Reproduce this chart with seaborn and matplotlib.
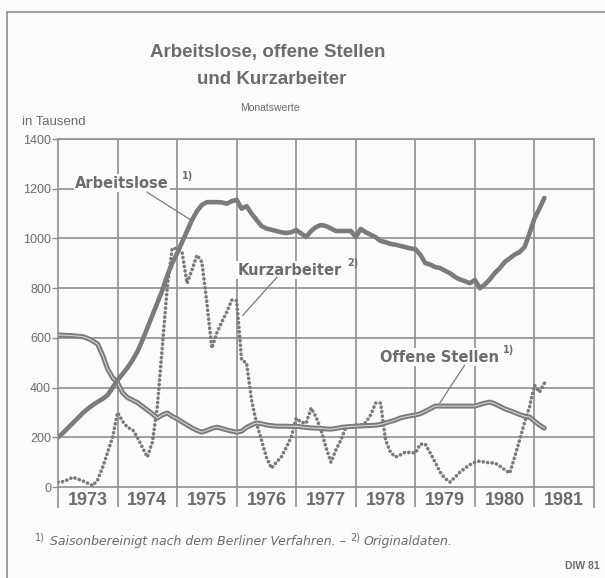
import numpy as np
import pandas as pd
import matplotlib
matplotlib.use('Agg')
import matplotlib.pyplot as plt
import seaborn as sns

# Monatswerte in Tausend, Januar 1973 bis Maerz 1981
arbeitslose = [
    200, 218, 238, 258, 278, 298, 315, 330, 343, 355, 370, 400,      # 1973
    430, 455, 480, 510, 545, 590, 640, 690, 740, 790, 850, 900,      # 1974
    940, 985, 1030, 1074, 1110, 1135, 1146, 1146, 1146, 1145, 1140, 1150,  # 1975
    1155, 1120, 1130, 1100, 1075, 1050, 1040, 1035, 1030, 1025, 1022, 1025,  # 1976
    1034, 1020, 1006, 1030, 1046, 1054, 1050, 1040, 1030, 1030, 1030, 1030,  # 1977
    1006, 1038, 1025, 1015, 1005, 990, 985, 978, 975, 970, 965, 960,  # 1978
    957, 935, 901, 895, 885, 881, 870, 860, 845, 835, 828, 820,      # 1979
    833, 800, 815, 835, 861, 880, 905, 920, 935, 945, 965, 1020,     # 1980
    1080, 1120, 1163,                                                # 1981
]
offene_stellen = [
    612, 611, 610, 609, 607, 605, 598, 588, 575, 530, 475, 440,
    420, 380, 360, 350, 340, 325, 310, 295, 278, 290, 298, 285,
    275, 262, 250, 238, 228, 221, 228, 236, 241, 236, 230, 225,
    221, 225, 240, 250, 258, 255, 250, 247, 245, 245, 245, 244,
    245, 242, 240, 238, 237, 236, 234, 233, 236, 240, 242, 244,
    245, 246, 247, 248, 249, 252, 258, 264, 270, 278, 283, 287,
    290, 295, 305, 315, 326, 326, 326, 326, 326, 326, 326, 326,
    326, 332, 338, 342, 335, 325, 315, 308, 300, 292, 285, 282,
    265, 250, 237,
]
kurzarbeiter = [
    20, 22, 30, 40, 32, 25, 16, 6, 30, 80, 140, 200,
    300, 265, 240, 232, 200, 160, 121, 180, 320, 560, 800, 960,
    960, 945, 820, 873, 933, 905, 740, 559, 620, 664, 704, 752,
    750, 511, 499, 350, 257, 189, 120, 76, 100, 121, 160, 201,
    277, 261, 257, 318, 282, 229, 160, 100, 150, 189, 241, 245,
    250, 249, 260, 290, 338, 338, 189, 140, 121, 130, 141, 139,
    137, 173, 173, 137, 100, 60, 35, 20, 40, 60, 76, 90,
    100, 105, 100, 98, 97, 85, 70, 56, 120, 189, 260, 322,
    410, 382, 418,
]
jahre = [1973, 1974, 1975, 1976, 1977, 1978, 1979, 1980, 1981]
y_ticks = [0, 200, 400, 600, 800, 1000, 1200, 1400]

monate = 1973 + np.arange(len(arbeitslose)) / 12
df = pd.DataFrame({'zeit': monate, 'Arbeitslose': arbeitslose,
                   'Offene Stellen': offene_stellen, 'Kurzarbeiter': kurzarbeiter})

grau = '#7b7b7b'
text_grau = '#6c6c6c'
gitter = '#8f8f8f'
bg = '#fafbfb'

sns.set_style('white')
plt.rcParams['font.family'] = ['Liberation Sans', 'DejaVu Sans']

fig = plt.figure(figsize=(6.05, 5.78), dpi=100, facecolor=bg)
ax = fig.add_axes([58 / 605, 1 - 507 / 578, (594 - 58) / 605, (507 - 139) / 578])
ax.set_facecolor(bg)

# Gitter
for v in y_ticks:
    ax.axhline(v, color=gitter, lw=1.2, zorder=1)
for j in jahre[1:]:
    ax.axvline(j, color=gitter, lw=1.2, zorder=1)

# Kurven
sns.lineplot(data=df, x='zeit', y='Kurzarbeiter', ax=ax, color=grau, lw=2.6,
             linestyle=(0, (0.05, 1.2)), dash_capstyle='round', zorder=3)
sns.lineplot(data=df, x='zeit', y='Offene Stellen', ax=ax, color=grau, lw=3.6, zorder=4)
sns.lineplot(data=df, x='zeit', y='Offene Stellen', ax=ax, color='#d4d4d4', lw=0.8, zorder=5)
sns.lineplot(data=df, x='zeit', y='Arbeitslose', ax=ax, color=grau, lw=3.3, zorder=6)

ax.set_xlim(1973, 1982)
ax.set_ylim(-80, 1400)
ax.set_xlabel('')
ax.set_ylabel('')
ax.set_xticks([])
ax.set_yticks(y_ticks)
ax.set_yticklabels([str(v) for v in y_ticks], color=text_grau, fontsize=9)
ax.tick_params(axis='y', length=4, width=1, color=gitter, pad=1, left=True)
for s in ['left', 'right', 'top']:
    ax.spines[s].set_color(gitter)
    ax.spines[s].set_linewidth(1.2)
ax.spines['bottom'].set_visible(False)

# Jahresbeschriftung unter der Nulllinie
for j in jahre:
    ax.text(j + 0.5, -52, str(j), ha='center', va='center', fontsize=13,
            fontweight='bold', color=text_grau, zorder=7)

# Beschriftungen der Kurven
lab = ['DejaVu Sans']
box = dict(facecolor=bg, edgecolor='none', pad=1)
ax.text(1973.29, 1223, 'Arbeitslose', fontsize=10.5, fontweight='bold', family=lab,
        color=text_grau, va='center', bbox=box, zorder=8)
ax.text(1975.08, 1250, '1)', fontsize=7, fontweight='bold', family=lab,
        color=text_grau, va='center', zorder=8)
ax.plot([1974.49, 1975.27], [1187, 1068], color=grau, lw=0.9, zorder=8)

ax.text(1976.02, 873, 'Kurzarbeiter', fontsize=10.5, fontweight='bold', family=lab,
        color=text_grau, va='center', bbox=box, zorder=8)
ax.text(1977.85, 900, '2)', fontsize=7, fontweight='bold', family=lab,
        color=text_grau, va='center', zorder=8)
ax.plot([1976.68, 1976.1], [845, 690], color=grau, lw=0.9, zorder=8)

ax.text(1978.41, 523, 'Offene Stellen', fontsize=10.5, fontweight='bold', family=lab,
        color=text_grau, va='center', bbox=box, zorder=8)
ax.text(1980.47, 550, '1)', fontsize=7, fontweight='bold', family=lab,
        color=text_grau, va='center', zorder=8)
ax.plot([1979.83, 1979.41], [491, 338], color=grau, lw=0.9, zorder=8)

# Titel
fig.text(268 / 605, 1 - 52 / 578, 'Arbeitslose, offene Stellen', ha='center', va='center',
         fontsize=13.5, fontweight='bold', color=text_grau)
fig.text(272 / 605, 1 - 80 / 578, 'und Kurzarbeiter', ha='center', va='center',
         fontsize=13.5, fontweight='bold', color=text_grau)
fig.text(270 / 605, 1 - 108 / 578, 'Monatswerte', ha='center', va='center',
         fontsize=7.5, color=text_grau)
fig.text(22 / 605, 1 - 122 / 578, 'in Tausend', ha='left', va='center',
         fontsize=9.5, color=text_grau)

# Fussnote
fn = ['DejaVu Sans']
fig.text(35 / 605, 1 - 538 / 578, '1)', fontsize=7, color=text_grau, va='center', family=fn)
fig.text(50 / 605, 1 - 541 / 578, 'Saisonbereinigt nach dem Berliner Verfahren. –',
         fontsize=9, style='italic', color=text_grau, va='center', family=fn)
fig.text(350 / 605, 1 - 538 / 578, '2)', fontsize=7, color=text_grau, va='center', family=fn)
fig.text(364 / 605, 1 - 541 / 578, 'Originaldaten.', fontsize=9, style='italic',
         color=text_grau, va='center', family=fn)
fig.text(600 / 605, 1 - 566 / 578, 'DIW 81', ha='right', va='center', fontsize=7.5,
         fontweight='bold', color=text_grau)

# Rahmen
fig.add_artist(plt.Line2D([7 / 605, 7 / 605], [0, 1 - 12 / 578], color=gitter, lw=1.2))
fig.add_artist(plt.Line2D([7 / 605, 1], [1 - 12 / 578, 1 - 12 / 578], color=gitter, lw=1.2))

fig.savefig('out.png', dpi=100, facecolor=bg)
